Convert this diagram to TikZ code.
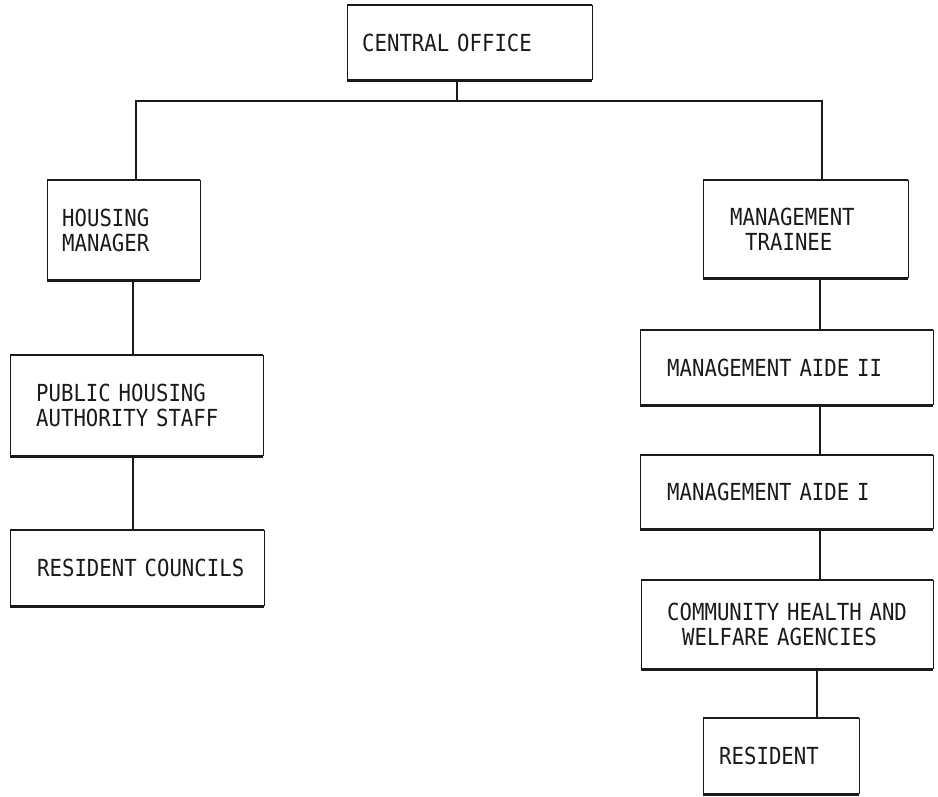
\documentclass[tikz,border=0pt]{standalone}
\usepackage{fontspec}
\newfontfamily\chartfont[FakeStretch=0.88]{DejaVu Sans Mono}
\definecolor{ink}{HTML}{1A1A1A}

% box outline: heavy top and bottom rules, light sides
\newcommand\chartframe[1]{%
  \draw[boxside] (#1.north west) -- (#1.south west)
                 (#1.north east) -- (#1.south east);
  \draw[boxrule] (#1.north west) -- (#1.north east)
                 (#1.south west) -- (#1.south east);
}

\begin{document}
\begin{tikzpicture}[x=1pt,y=-1pt,
  every node/.style={font=\chartfont\fontsize{23.5}{25}\selectfont, text=ink},
  unit/.style n args={3}{anchor=north west, inner ysep=0pt, inner xsep=0pt,
    minimum width=#1, minimum height=#2, text width=#1,
    execute at begin node={\leftskip=#3pt\rightskip=0pt plus 1fil\relax}},
  boxrule/.style={draw=ink, line width=2.4pt},
  boxside/.style={draw=ink, line width=1pt},
  link/.style={draw=ink, line width=1.4pt}]
\useasboundingbox (0,0) rectangle (938,796);

% positions
\node[unit={245}{75}{15}]  (co)  at (347,5)   {CENTRAL OFFICE};
\node[unit={153}{100}{15}] (hm)  at (47,180)  {HOUSING\\MANAGER};
\node[unit={253}{101}{26}] (pha) at (10,355)  {PUBLIC HOUSING\\AUTHORITY STAFF};
\node[unit={254}{76}{27}]  (rc)  at (10,530)  {RESIDENT COUNCILS};
\node[unit={205}{98}{27}]  (mt)  at (703,180) {MANAGEMENT\\\hspace*{15pt}TRAINEE};
\node[unit={293}{75}{27}]  (a2)  at (640,330) {MANAGEMENT AIDE II};
\node[unit={293}{74}{27}]  (a1)  at (640,455) {MANAGEMENT AIDE I};
\node[unit={292}{89}{26}]  (ch)  at (641,580) {COMMUNITY HEALTH AND\\\hspace*{15pt}WELFARE AGENCIES};
\node[unit={156}{76}{16}]  (res) at (703,718) {RESIDENT};

\foreach \b in {co,hm,pha,rc,mt,a2,a1,ch,res} {\chartframe{\b}}

% junctions of the connector lines
\coordinate (top) at (457,101);
\coordinate (jl)  at (136,101);
\coordinate (jr)  at (822,101);
\coordinate (lx)  at (133,0);
\coordinate (rx)  at (820,0);
\coordinate (rx2) at (817,0);

% connectors
\draw[link] (co.south -| top) -- (top);
\draw[link] (hm.north -| jl) -- (jl) -- (jr) -- (mt.north -| jr);
\draw[link] (hm.south -| lx) -- (pha.north -| lx);
\draw[link] (pha.south -| lx) -- (rc.north -| lx);
\draw[link] (mt.south -| rx) -- (a2.north -| rx);
\draw[link] (a2.south -| rx) -- (a1.north -| rx);
\draw[link] (a1.south -| rx) -- (ch.north -| rx);
\draw[link] (ch.south -| rx2) -- (res.north -| rx2);
\end{tikzpicture}
\end{document}
